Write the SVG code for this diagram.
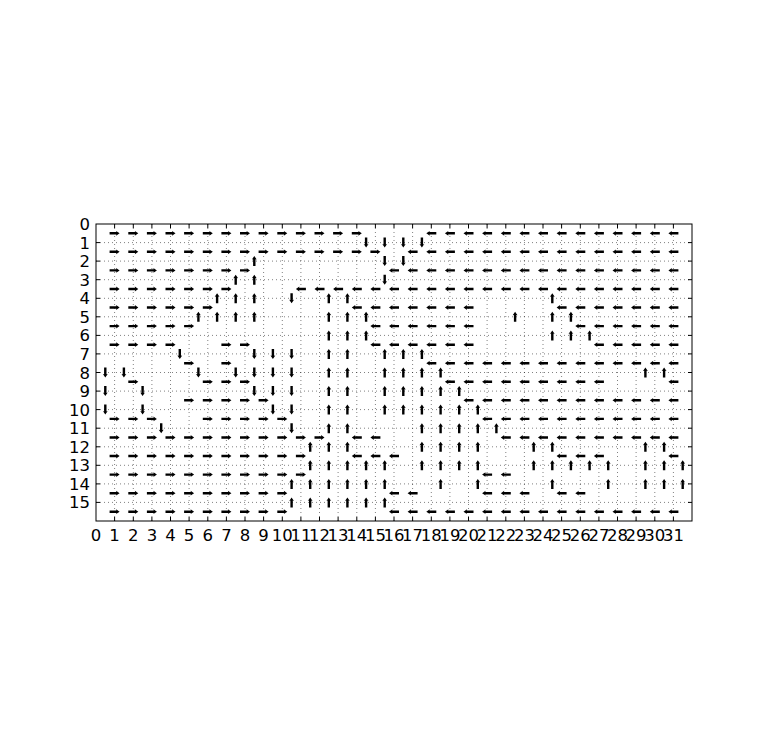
<svg xmlns="http://www.w3.org/2000/svg" xmlns:xlink="http://www.w3.org/1999/xlink" width="768" height="745" viewBox="0 0 768 745">
<style>
.g{stroke:#000;stroke-width:0.5;stroke-dasharray:1 3;fill:none}
.t{stroke:#000;stroke-width:1;fill:none}
.lx{font-family:"DejaVu Sans",sans-serif;font-size:16.5px;text-anchor:middle;fill:#000}
.ly{font-family:"DejaVu Sans",sans-serif;font-size:16.5px;text-anchor:end;fill:#000}
</style>
<defs>
<path id="ar" d="M-5,-1.2 L1.8,-1.2 L1.5,-2.4 L5,0 L1.5,2.4 L1.8,1.2 L-5,1.2 Z" fill="#000"/>
<path id="al" d="M5,-1.2 L-1.8,-1.2 L-1.5,-2.4 L-5,0 L-1.5,2.4 L-1.8,1.2 L5,1.2 Z" fill="#000"/>
<path id="au" d="M-1.2,5 L-1.2,-1.8 L-2.4,-1.5 L0,-5 L2.4,-1.5 L1.2,-1.8 L1.2,5 Z" fill="#000"/>
<path id="ad" d="M-1.2,-5 L-1.2,1.8 L-2.4,1.5 L0,5 L2.4,1.5 L1.2,1.8 L1.2,-5 Z" fill="#000"/>
<g id="r10">
<use href="#ar" x="114.6"/><use href="#ar" x="133.3"/><use href="#ar" x="151.9"/><use href="#ar" x="170.5"/><use href="#ar" x="189.1"/><use href="#ar" x="207.8"/><use href="#ar" x="226.4"/><use href="#ar" x="245"/><use href="#ar" x="263.6"/><use href="#ar" x="282.3"/>
</g>
<g id="l20">
<use href="#al" x="468.5"/><use href="#al" x="487.1"/><use href="#al" x="505.8"/><use href="#al" x="524.4"/><use href="#al" x="543"/><use href="#al" x="561.6"/><use href="#al" x="580.3"/><use href="#al" x="598.9"/><use href="#al" x="617.5"/><use href="#al" x="636.1"/><use href="#al" x="654.8"/><use href="#al" x="673.4"/>
</g>
</defs>
<rect width="768" height="745" fill="#fff"/>
<g id="grid">
<path class="g" d="M114.6,224V521M133.3,224V521M151.9,224V521M170.5,224V521M189.1,224V521M207.8,224V521M226.4,224V521M245,224V521M263.6,224V521M282.3,224V521M300.9,224V521M319.5,224V521M338.1,224V521M356.8,224V521M375.4,224V521M394,224V521M412.6,224V521M431.3,224V521M449.9,224V521M468.5,224V521M487.1,224V521M505.8,224V521M524.4,224V521M543,224V521M561.6,224V521M580.3,224V521M598.9,224V521M617.5,224V521M636.1,224V521M654.8,224V521M673.4,224V521"/>
<path class="g" d="M96,242.6H692M96,261.1H692M96,279.7H692M96,298.3H692M96,316.8H692M96,335.4H692M96,353.9H692M96,372.5H692M96,391.1H692M96,409.6H692M96,428.2H692M96,446.8H692M96,465.3H692M96,483.9H692M96,502.4H692"/>
</g>
<g id="arrows">
<g id="h0" transform="translate(0,233.3)">
<use href="#ar" x="114.6"/><use href="#ar" x="133.3"/><use href="#ar" x="151.9"/><use href="#ar" x="170.5"/><use href="#ar" x="189.1"/><use href="#ar" x="207.8"/><use href="#ar" x="226.4"/><use href="#ar" x="245"/><use href="#ar" x="263.6"/><use href="#ar" x="282.3"/><use href="#ar" x="300.9"/><use href="#ar" x="319.5"/><use href="#ar" x="338.1"/><use href="#ar" x="356.8"/>
<use href="#al" x="431.3"/><use href="#al" x="449.9"/><use href="#l20"/>
</g>
<g id="v1" transform="translate(0,242.6)">
<use href="#ad" x="366.1"/><use href="#ad" x="384.7"/><use href="#ad" x="403.3"/><use href="#ad" x="421.9"/>
</g>
<g id="h1" transform="translate(0,251.8)">
<use href="#r10"/><use href="#ar" x="300.9"/><use href="#ar" x="319.5"/><use href="#ar" x="338.1"/><use href="#ar" x="356.8"/><use href="#ar" x="375.4"/>
<use href="#al" x="412.6"/><use href="#al" x="431.3"/><use href="#al" x="449.9"/><use href="#l20"/>
</g>
<g id="v2" transform="translate(0,261.1)">
<use href="#au" x="254.3"/><use href="#ad" x="384.7"/><use href="#ad" x="403.3"/>
</g>
<g id="h2" transform="translate(0,270.4)">
<use href="#ar" x="114.6"/><use href="#ar" x="133.3"/><use href="#ar" x="151.9"/><use href="#ar" x="170.5"/><use href="#ar" x="189.1"/><use href="#ar" x="207.8"/><use href="#ar" x="226.4"/><use href="#ar" x="245"/>
<use href="#al" x="394"/><use href="#al" x="412.6"/><use href="#al" x="431.3"/><use href="#al" x="449.9"/><use href="#l20"/>
</g>
<g id="v3" transform="translate(0,279.7)">
<use href="#au" x="235.7"/><use href="#au" x="254.3"/><use href="#ad" x="384.7"/>
</g>
<g id="h3" transform="translate(0,289)">
<use href="#ar" x="114.6"/><use href="#ar" x="133.3"/><use href="#ar" x="151.9"/><use href="#ar" x="170.5"/><use href="#ar" x="189.1"/><use href="#ar" x="207.8"/><use href="#ar" x="226.4"/>
<use href="#al" x="300.9"/><use href="#al" x="319.5"/><use href="#al" x="338.1"/><use href="#al" x="356.8"/><use href="#al" x="375.4"/><use href="#al" x="394"/><use href="#al" x="412.6"/><use href="#al" x="431.3"/><use href="#al" x="449.9"/><use href="#l20"/>
</g>
<g id="v4" transform="translate(0,298.3)">
<use href="#au" x="217.1"/><use href="#au" x="235.7"/><use href="#au" x="254.3"/><use href="#ad" x="291.6"/><use href="#au" x="328.8"/><use href="#au" x="347.4"/><use href="#au" x="552.3"/>
</g>
<g id="h4" transform="translate(0,307.5)">
<use href="#ar" x="114.6"/><use href="#ar" x="133.3"/><use href="#ar" x="151.9"/><use href="#ar" x="170.5"/><use href="#ar" x="189.1"/><use href="#ar" x="207.8"/>
<use href="#al" x="356.8"/><use href="#al" x="375.4"/><use href="#al" x="394"/><use href="#al" x="412.6"/><use href="#al" x="431.3"/><use href="#al" x="449.9"/><use href="#al" x="468.5"/>
<use href="#al" x="561.6"/><use href="#al" x="580.3"/><use href="#al" x="598.9"/><use href="#al" x="617.5"/><use href="#al" x="636.1"/><use href="#al" x="654.8"/><use href="#al" x="673.4"/>
</g>
<g id="v5" transform="translate(0,316.8)">
<use href="#au" x="198.4"/><use href="#au" x="217.1"/><use href="#au" x="235.7"/><use href="#au" x="254.3"/><use href="#au" x="328.8"/><use href="#au" x="347.4"/><use href="#au" x="366.1"/><use href="#au" x="515.1"/><use href="#au" x="552.3"/><use href="#au" x="570.9"/>
</g>
<g id="h5" transform="translate(0,326.1)">
<use href="#ar" x="114.6"/><use href="#ar" x="133.3"/><use href="#ar" x="151.9"/><use href="#ar" x="170.5"/><use href="#ar" x="189.1"/>
<use href="#al" x="375.4"/><use href="#al" x="394"/><use href="#al" x="412.6"/><use href="#al" x="431.3"/><use href="#al" x="449.9"/><use href="#al" x="468.5"/>
<use href="#al" x="580.3"/><use href="#al" x="598.9"/><use href="#al" x="617.5"/><use href="#al" x="636.1"/><use href="#al" x="654.8"/><use href="#al" x="673.4"/>
</g>
<g id="v6" transform="translate(0,335.4)">
<use href="#au" x="328.8"/><use href="#au" x="347.4"/><use href="#au" x="366.1"/><use href="#au" x="552.3"/><use href="#au" x="570.9"/><use href="#au" x="589.6"/>
</g>
<g id="h6" transform="translate(0,344.7)">
<use href="#ar" x="114.6"/><use href="#ar" x="133.3"/><use href="#ar" x="151.9"/><use href="#ar" x="170.5"/><use href="#ar" x="226.4"/><use href="#ar" x="245"/>
<use href="#al" x="375.4"/><use href="#al" x="394"/><use href="#al" x="412.6"/><use href="#al" x="431.3"/><use href="#al" x="449.9"/><use href="#al" x="468.5"/>
<use href="#al" x="598.9"/><use href="#al" x="617.5"/><use href="#al" x="636.1"/><use href="#al" x="654.8"/><use href="#al" x="673.4"/>
</g>
<g id="v7" transform="translate(0,353.9)">
<use href="#ad" x="179.8"/><use href="#ad" x="254.3"/><use href="#ad" x="272.9"/><use href="#ad" x="291.6"/><use href="#au" x="328.8"/><use href="#au" x="347.4"/><use href="#au" x="384.7"/><use href="#au" x="403.3"/><use href="#au" x="421.9"/>
</g>
<g id="h7" transform="translate(0,363.2)">
<use href="#ar" x="189.1"/><use href="#ar" x="226.4"/>
<use href="#al" x="431.3"/><use href="#al" x="449.9"/><use href="#l20"/>
</g>
<g id="v8" transform="translate(0,372.5)">
<use href="#ad" x="105.3"/><use href="#ad" x="123.9"/><use href="#ad" x="198.4"/><use href="#ad" x="235.7"/><use href="#ad" x="254.3"/><use href="#ad" x="272.9"/><use href="#ad" x="291.6"/><use href="#au" x="328.8"/><use href="#au" x="347.4"/><use href="#au" x="384.7"/><use href="#au" x="403.3"/><use href="#au" x="421.9"/><use href="#au" x="440.6"/><use href="#au" x="645.4"/><use href="#au" x="664.1"/>
</g>
<g id="h8" transform="translate(0,381.8)">
<use href="#ar" x="133.3"/><use href="#ar" x="207.8"/><use href="#ar" x="226.4"/><use href="#ar" x="245"/>
<use href="#al" x="449.9"/><use href="#al" x="468.5"/><use href="#al" x="487.1"/><use href="#al" x="505.8"/><use href="#al" x="524.4"/><use href="#al" x="543"/><use href="#al" x="561.6"/><use href="#al" x="580.3"/><use href="#al" x="598.9"/><use href="#al" x="673.4"/>
</g>
<g id="v9" transform="translate(0,391.1)">
<use href="#ad" x="105.3"/><use href="#ad" x="142.6"/><use href="#ad" x="254.3"/><use href="#ad" x="272.9"/><use href="#ad" x="291.6"/><use href="#au" x="328.8"/><use href="#au" x="347.4"/><use href="#au" x="384.7"/><use href="#au" x="403.3"/><use href="#au" x="421.9"/><use href="#au" x="440.6"/><use href="#au" x="459.2"/>
</g>
<g id="h9" transform="translate(0,400.3)">
<use href="#ar" x="189.1"/><use href="#ar" x="207.8"/><use href="#ar" x="226.4"/><use href="#ar" x="245"/><use href="#ar" x="263.6"/>
<use href="#l20"/>
</g>
<g id="v10" transform="translate(0,409.6)">
<use href="#ad" x="105.3"/><use href="#ad" x="142.6"/><use href="#ad" x="272.9"/><use href="#ad" x="291.6"/><use href="#au" x="328.8"/><use href="#au" x="347.4"/><use href="#au" x="384.7"/><use href="#au" x="403.3"/><use href="#au" x="421.9"/><use href="#au" x="440.6"/><use href="#au" x="459.2"/><use href="#au" x="477.8"/>
</g>
<g id="h10" transform="translate(0,418.9)">
<use href="#ar" x="114.6"/><use href="#ar" x="133.3"/><use href="#ar" x="151.9"/><use href="#ar" x="207.8"/><use href="#ar" x="226.4"/><use href="#ar" x="245"/><use href="#ar" x="263.6"/><use href="#ar" x="282.3"/>
<use href="#al" x="487.1"/><use href="#al" x="505.8"/><use href="#al" x="524.4"/><use href="#al" x="543"/><use href="#al" x="561.6"/><use href="#al" x="580.3"/><use href="#al" x="598.9"/><use href="#al" x="617.5"/><use href="#al" x="636.1"/><use href="#al" x="654.8"/><use href="#al" x="673.4"/>
</g>
<g id="v11" transform="translate(0,428.2)">
<use href="#ad" x="161.2"/><use href="#ad" x="291.6"/><use href="#au" x="328.8"/><use href="#au" x="347.4"/><use href="#au" x="421.9"/><use href="#au" x="440.6"/><use href="#au" x="459.2"/><use href="#au" x="477.8"/><use href="#au" x="496.4"/>
</g>
<g id="h11" transform="translate(0,437.5)">
<use href="#r10"/><use href="#ar" x="300.9"/><use href="#ar" x="319.5"/>
<use href="#al" x="356.8"/><use href="#al" x="375.4"/>
<use href="#al" x="505.8"/><use href="#al" x="524.4"/><use href="#al" x="543"/><use href="#al" x="561.6"/><use href="#al" x="580.3"/><use href="#al" x="598.9"/><use href="#al" x="617.5"/><use href="#al" x="636.1"/><use href="#al" x="654.8"/><use href="#al" x="673.4"/>
</g>
<g id="v12" transform="translate(0,446.8)">
<use href="#au" x="310.2"/><use href="#au" x="328.8"/><use href="#au" x="347.4"/><use href="#au" x="421.9"/><use href="#au" x="440.6"/><use href="#au" x="459.2"/><use href="#au" x="477.8"/><use href="#au" x="533.7"/><use href="#au" x="552.3"/><use href="#au" x="645.4"/><use href="#au" x="664.1"/>
</g>
<g id="h12" transform="translate(0,456)">
<use href="#r10"/><use href="#ar" x="300.9"/>
<use href="#al" x="356.8"/><use href="#al" x="375.4"/><use href="#al" x="394"/>
<use href="#al" x="561.6"/><use href="#al" x="580.3"/><use href="#al" x="598.9"/><use href="#al" x="673.4"/>
</g>
<g id="v13" transform="translate(0,465.3)">
<use href="#au" x="310.2"/><use href="#au" x="328.8"/><use href="#au" x="347.4"/><use href="#au" x="366.1"/><use href="#au" x="384.7"/><use href="#au" x="421.9"/><use href="#au" x="440.6"/><use href="#au" x="459.2"/><use href="#au" x="477.8"/><use href="#au" x="533.7"/><use href="#au" x="552.3"/><use href="#au" x="570.9"/><use href="#au" x="589.6"/><use href="#au" x="608.2"/><use href="#au" x="645.4"/><use href="#au" x="664.1"/><use href="#au" x="682.7"/>
</g>
<g id="h13" transform="translate(0,474.6)">
<use href="#r10"/><use href="#ar" x="300.9"/>
<use href="#al" x="487.1"/><use href="#al" x="505.8"/>
</g>
<g id="v14" transform="translate(0,483.9)">
<use href="#au" x="291.6"/><use href="#au" x="310.2"/><use href="#au" x="328.8"/><use href="#au" x="347.4"/><use href="#au" x="366.1"/><use href="#au" x="384.7"/><use href="#au" x="440.6"/><use href="#au" x="477.8"/><use href="#au" x="552.3"/><use href="#au" x="608.2"/><use href="#au" x="645.4"/><use href="#au" x="664.1"/><use href="#au" x="682.7"/>
</g>
<g id="h14" transform="translate(0,493.2)">
<use href="#r10"/>
<use href="#al" x="394"/><use href="#al" x="412.6"/>
<use href="#al" x="487.1"/><use href="#al" x="505.8"/><use href="#al" x="524.4"/><use href="#al" x="561.6"/><use href="#al" x="580.3"/>
</g>
<g id="v15" transform="translate(0,502.4)">
<use href="#au" x="291.6"/><use href="#au" x="310.2"/><use href="#au" x="328.8"/><use href="#au" x="347.4"/><use href="#au" x="366.1"/><use href="#au" x="384.7"/>
</g>
<g id="h15" transform="translate(0,511.7)">
<use href="#r10"/>
<use href="#al" x="394"/><use href="#al" x="412.6"/><use href="#al" x="431.3"/><use href="#al" x="449.9"/><use href="#l20"/>
</g>
</g>
<g id="axes">
<rect class="t" x="96" y="224" width="596" height="297"/>
<path class="t" d="M114.6,224v4M133.3,224v4M151.9,224v4M170.5,224v4M189.1,224v4M207.8,224v4M226.4,224v4M245,224v4M263.6,224v4M282.3,224v4M300.9,224v4M319.5,224v4M338.1,224v4M356.8,224v4M375.4,224v4M394,224v4M412.6,224v4M431.3,224v4M449.9,224v4M468.5,224v4M487.1,224v4M505.8,224v4M524.4,224v4M543,224v4M561.6,224v4M580.3,224v4M598.9,224v4M617.5,224v4M636.1,224v4M654.8,224v4M673.4,224v4"/>
<path class="t" d="M114.6,521v-4M133.3,521v-4M151.9,521v-4M170.5,521v-4M189.1,521v-4M207.8,521v-4M226.4,521v-4M245,521v-4M263.6,521v-4M282.3,521v-4M300.9,521v-4M319.5,521v-4M338.1,521v-4M356.8,521v-4M375.4,521v-4M394,521v-4M412.6,521v-4M431.3,521v-4M449.9,521v-4M468.5,521v-4M487.1,521v-4M505.8,521v-4M524.4,521v-4M543,521v-4M561.6,521v-4M580.3,521v-4M598.9,521v-4M617.5,521v-4M636.1,521v-4M654.8,521v-4M673.4,521v-4"/>
<path class="t" d="M96,242.6h4M96,261.1h4M96,279.7h4M96,298.3h4M96,316.8h4M96,335.4h4M96,353.9h4M96,372.5h4M96,391.1h4M96,409.6h4M96,428.2h4M96,446.8h4M96,465.3h4M96,483.9h4M96,502.4h4"/>
<path class="t" d="M692,242.6h-4M692,261.1h-4M692,279.7h-4M692,298.3h-4M692,316.8h-4M692,335.4h-4M692,353.9h-4M692,372.5h-4M692,391.1h-4M692,409.6h-4M692,428.2h-4M692,446.8h-4M692,465.3h-4M692,483.9h-4M692,502.4h-4"/>
</g>
<g id="xlabels">
<text class="lx" x="96" y="541">0</text><text class="lx" x="114.6" y="541">1</text><text class="lx" x="133.3" y="541">2</text><text class="lx" x="151.9" y="541">3</text><text class="lx" x="170.5" y="541">4</text><text class="lx" x="189.1" y="541">5</text><text class="lx" x="207.8" y="541">6</text><text class="lx" x="226.4" y="541">7</text><text class="lx" x="245" y="541">8</text><text class="lx" x="263.6" y="541">9</text><text class="lx" x="282.3" y="541">10</text><text class="lx" x="300.9" y="541">11</text><text class="lx" x="319.5" y="541">12</text><text class="lx" x="338.1" y="541">13</text><text class="lx" x="356.8" y="541">14</text><text class="lx" x="375.4" y="541">15</text><text class="lx" x="394" y="541">16</text><text class="lx" x="412.6" y="541">17</text><text class="lx" x="431.3" y="541">18</text><text class="lx" x="449.9" y="541">19</text><text class="lx" x="468.5" y="541">20</text><text class="lx" x="487.1" y="541">21</text><text class="lx" x="505.8" y="541">22</text><text class="lx" x="524.4" y="541">23</text><text class="lx" x="543" y="541">24</text><text class="lx" x="561.6" y="541">25</text><text class="lx" x="580.3" y="541">26</text><text class="lx" x="598.9" y="541">27</text><text class="lx" x="617.5" y="541">28</text><text class="lx" x="636.1" y="541">29</text><text class="lx" x="654.8" y="541">30</text><text class="lx" x="673.4" y="541">31</text>
</g>
<g id="ylabels">
<text class="ly" x="90" y="230">0</text><text class="ly" x="90" y="248.6">1</text><text class="ly" x="90" y="267.1">2</text><text class="ly" x="90" y="285.7">3</text><text class="ly" x="90" y="304.3">4</text><text class="ly" x="90" y="322.8">5</text><text class="ly" x="90" y="341.4">6</text><text class="ly" x="90" y="359.9">7</text><text class="ly" x="90" y="378.5">8</text><text class="ly" x="90" y="397.1">9</text><text class="ly" x="90" y="415.6">10</text><text class="ly" x="90" y="434.2">11</text><text class="ly" x="90" y="452.8">12</text><text class="ly" x="90" y="471.3">13</text><text class="ly" x="90" y="489.9">14</text><text class="ly" x="90" y="508.4">15</text>
</g>
</svg>
